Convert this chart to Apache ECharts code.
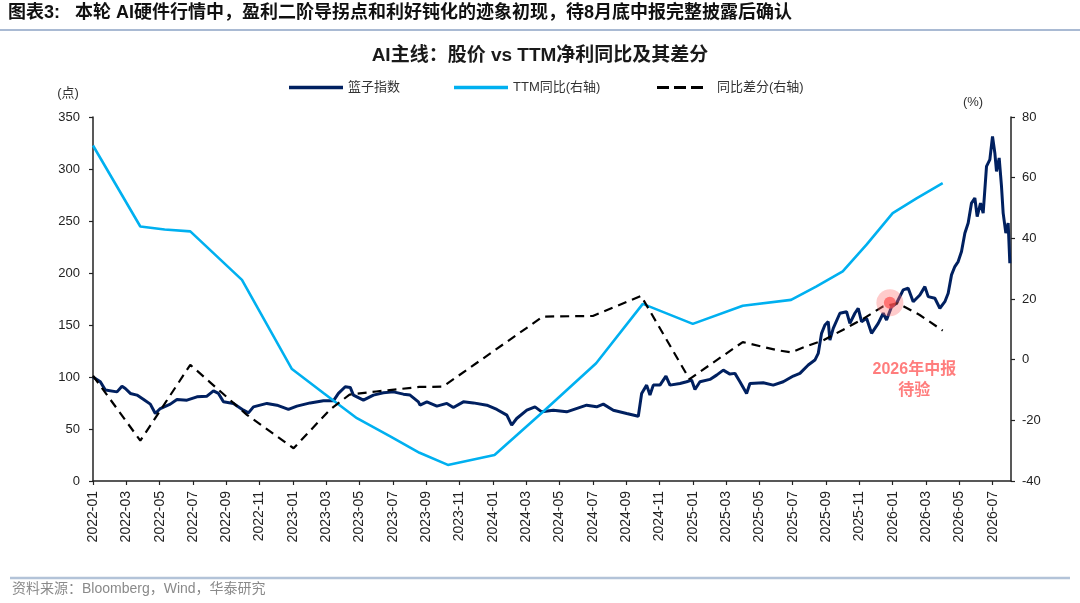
<!DOCTYPE html>
<html>
<head>
<meta charset="utf-8">
<script src="https://cdn.jsdelivr.net/npm/echarts@6/dist/echarts.min.js"></script>
<style>
html,body{margin:0;padding:0;background:#fff;}
#c{width:1080px;height:603px;}
</style>
</head>
<body>
<div id="c"></div>
<script>
// x values are months since 2022-01 (0 = 2022-01, 2 = 2022-03, ...)
const indexMonths = [0,0.44,0.74,1.44,1.74,1.94,2.24,2.64,3.04,3.44,3.74,4.04,4.64,5.04,5.64,6.24,6.84,7.23,7.53,7.83,8.43,9.03,9.33,9.63,10.44,11.04,11.73,12.24,13.04,13.83,14.43,14.73,15.14,15.44,15.63,16.23,16.83,17.43,18.03,18.63,19.03,19.53,19.63,20.04,20.64,21.24,21.63,22.23,22.83,23.64,24.24,24.84,25.13,25.43,26.04,26.53,26.93,27.63,28.43,29.63,30.23,30.63,31.23,32.03,32.73,32.93,33.23,33.43,33.63,34.03,34.39,34.63,35.23,35.63,35.93,36.13,36.43,37.03,37.43,37.83,38.23,38.53,38.83,39.23,39.43,40.23,40.83,41.43,42.03,42.43,42.93,43.33,43.53,43.73,43.93,44.13,44.23,44.43,44.83,45.23,45.43,45.73,45.93,46.13,46.43,46.73,47.13,47.43,47.63,47.93,48.23,48.63,48.93,49.23,49.63,49.93,50.13,50.53,50.83,51.13,51.33,51.53,51.73,51.93,52.13,52.33,52.53,52.73,52.93,53.07,53.27,53.43,53.63,53.83,53.99,54.13,54.23,54.39,54.53,54.63,54.79,54.93,55.03];
const indexValues = [100,95.4,87.4,85.7,91.2,89,84.2,82.6,78.4,73.9,64.9,69.7,73.9,78.4,77.7,80.9,81.6,86.7,84.2,76.1,74.6,68.1,65.5,71.3,74.6,72.9,68.8,72,75.1,77.1,77.1,84.2,90.6,90,82.6,77.7,82.6,84.8,85.7,83.5,82.6,76.1,72.9,76.1,72,74.6,70.7,76.1,75.1,72.9,68.8,63.3,53.7,60.1,68.1,71.3,66.5,68.1,66.5,72.9,71.3,73.9,68.1,64.9,62.3,84.2,92.2,82.6,92.2,92.2,100.9,92.2,93.8,95.4,97,88,95.4,97.7,101.8,106.6,102.8,103.5,95.4,84.2,93.8,94.4,92.2,95.4,100.9,103.5,111.5,116.3,122.7,142,150,153.2,135.5,146.8,161.3,162.8,151.6,161.3,166.1,153.2,156.4,142,151.6,161.3,154.8,167.6,170.9,183.7,185.4,172.4,178.9,186.9,177.3,175.7,166.1,172.4,180.5,198.2,206.2,211,220.6,238.3,248,267.2,272.1,254.3,267.2,257.6,302.5,309,331.4,315.4,297.7,310.6,283.2,257.6,238.3,248,209.4];

const ttmMonths = [0,2.84,4.3,5.84,8.94,11.94,13.83,15.84,17.84,19.6,21.3,24.1,27.03,30.2,33.0,36.0,39.0,41.9,43.4,45.0,46.43,48.0,49.43,51.0];
const ttmValues = [70.6,43.9,42.9,42.3,26.3,-3.1,-11,-19.3,-25.3,-30.7,-34.7,-31.4,-17.1,-1.2,18.4,11.8,17.8,19.7,24.1,29.1,37.9,48.3,53.2,58.2];

const diffMonths = [0,2.84,5.84,9.24,12.04,14.2,15.4,17.0,19.6,21.0,27.0,30.0,32.9,35.8,39.0,41.0,41.9,42.8,43.8,45.0,46.2,47.4,48.3,49.6,51.0];
const diffValues = [-5.3,-26.7,-1.7,-18.2,-29.2,-16.6,-11.5,-10.5,-9,-8.9,14.2,14.4,21,-6.4,5.8,3.2,2.4,4.4,6.3,9.8,13.4,17.5,18.6,14.8,9.6];

const seriesNames = ['篮子指数','TTM同比(右轴)','同比差分(右轴)'];
const leftTicks = {min:0, max:350, interval:50};
const rightTicks = {min:-40, max:80, interval:20};
const xRange = {min:0, max:55.1, interval:2, startYear:2022};
const notePoint = [47.83, 171.4];
const noteTextPoint = [49.3, 97.5];
const noteText = '2026年中报\n待验';

const zip = (a,b) => a.map((v,i)=>[v,b[i]]);
const FONT = '"Liberation Sans", Arial, "Noto Sans CJK SC", sans-serif';
const legendText = {fontSize:13, color:'#333', fontFamily:FONT};

const chart = echarts.init(document.getElementById('c'), null, {renderer:'canvas'});
chart.setOption({
  animation:false,
  backgroundColor:'#fff',
  textStyle:{fontFamily:FONT},
  title:{
    text:'AI主线：股价 vs TTM净利同比及其差分',
    left:'center', top:41,
    textStyle:{fontSize:19, fontWeight:'bold', color:'#1a1a1a', fontFamily:FONT}
  },
  legend:[
    {data:[seriesNames[0]], left:284, top:76, icon:'rect', itemWidth:54, itemHeight:3.5, itemGap:10, textStyle:legendText},
    {data:[seriesNames[1]], left:449, top:76, icon:'rect', itemWidth:54, itemHeight:3.5, itemGap:10, textStyle:legendText},
    {data:[{name:seriesNames[2], icon:'path://M0,0h12v3h-12z M17,0h12v3h-12z M34,0h12v3h-12z'}], left:652, top:76, itemWidth:46, itemHeight:3, itemGap:10, textStyle:Object.assign({padding:[0,0,0,9]}, legendText)}
  ],
  grid:{left:93, right:69, top:117, bottom:122, containLabel:false},
  xAxis:{
    type:'value', min:xRange.min, max:xRange.max, interval:xRange.interval,
    axisLine:{show:true, lineStyle:{color:'#222', width:1.5}},
    axisTick:{show:true, inside:false, length:4, lineStyle:{color:'#222', width:1.2}},
    splitLine:{show:false},
    axisLabel:{
      rotate:90, fontSize:14, color:'#222', margin:10, showMaxLabel:false,
      formatter:function(v){
        const y = xRange.startYear + Math.floor(v/12);
        const m = Math.round(v%12)+1;
        return y+'-'+(m<10?'0'+m:m);
      }
    }
  },
  yAxis:[
    {
      type:'value', min:leftTicks.min, max:leftTicks.max, interval:leftTicks.interval,
      axisLine:{show:true, lineStyle:{color:'#222', width:1.5}},
      axisTick:{show:true, length:4, lineStyle:{color:'#222', width:1.2}},
      splitLine:{show:false},
      axisLabel:{fontSize:13, color:'#222', margin:13}
    },
    {
      type:'value', position:'right', min:rightTicks.min, max:rightTicks.max, interval:rightTicks.interval,
      axisLine:{show:true, lineStyle:{color:'#222', width:1.5}},
      axisTick:{show:true, length:4, lineStyle:{color:'#222', width:1.2}},
      splitLine:{show:false},
      axisLabel:{fontSize:13, color:'#222', margin:11}
    }
  ],
  graphic:[
    {type:'text', left:8, top:4, style:{text:'图表3:   本轮 AI硬件行情中，盈利二阶导拐点和利好钝化的迹象初现，待8月底中报完整披露后确认', font:'bold 18px '+FONT, fill:'#111'}},
    {type:'line', shape:{x1:0,y1:30,x2:1080,y2:30}, style:{stroke:'#a9bad3', lineWidth:2}},
    {type:'line', shape:{x1:10,y1:578,x2:1070,y2:578}, style:{stroke:'#b3c3d8', lineWidth:2.5}},
    {type:'text', left:12, top:582, style:{text:'资料来源：Bloomberg，Wind，华泰研究', font:'14px '+FONT, fill:'#8a8a8a'}},
    {type:'text', x:68, y:93, style:{text:'(点)', font:'13px '+FONT, fill:'#333', textAlign:'center', textVerticalAlign:'middle'}},
    {type:'text', x:973, y:102, style:{text:'(%)', font:'13px '+FONT, fill:'#333', textAlign:'center', textVerticalAlign:'middle'}}
  ],
  series:[
    {
      name:seriesNames[0], type:'line', yAxisIndex:0, showSymbol:false, symbol:'none',
      data:zip(indexMonths,indexValues),
      lineStyle:{color:'#002060', width:3}, itemStyle:{color:'#002060'}, z:2
    },
    {
      name:seriesNames[1], type:'line', yAxisIndex:1, showSymbol:false, symbol:'none',
      data:zip(ttmMonths,ttmValues),
      lineStyle:{color:'#00b0f0', width:2.6}, itemStyle:{color:'#00b0f0'}, z:3
    },
    {
      name:seriesNames[2], type:'line', yAxisIndex:1, showSymbol:false, symbol:'none',
      data:zip(diffMonths,diffValues),
      lineStyle:{color:'#000', width:2.2, type:[9,6]}, itemStyle:{color:'#000'}, z:4
    },
    {
      type:'scatter', yAxisIndex:0, data:[notePoint], symbolSize:27,
      itemStyle:{color:'rgba(255,110,110,0.45)'}, z:5, silent:true
    },
    {
      type:'scatter', yAxisIndex:0, data:[notePoint], symbolSize:12,
      itemStyle:{color:'rgba(255,75,75,0.85)'}, z:6, silent:true
    },
    {
      type:'scatter', yAxisIndex:0, data:[noteTextPoint], symbolSize:1,
      itemStyle:{color:'rgba(0,0,0,0)'}, z:6, silent:true,
      label:{show:true, position:'inside', formatter:noteText, fontSize:16, fontWeight:'bold', color:'#ff5c5c', lineHeight:21, align:'center'}
    }
  ]
});
</script>
</body>
</html>
